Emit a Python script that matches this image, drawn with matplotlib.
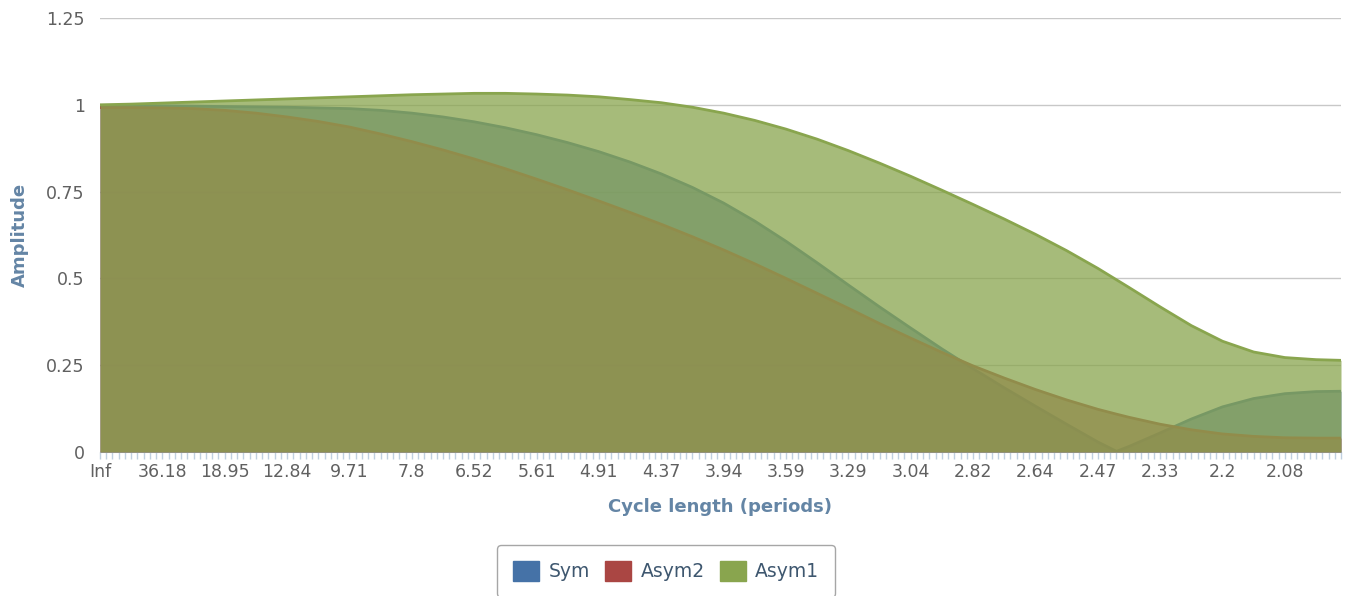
import matplotlib
matplotlib.use("Agg")
import matplotlib.pyplot as plt
from matplotlib.patches import Patch

# ---------------- data ----------------
n_categories = 200
tick_labels = ["Inf", "36.18", "18.95", "12.84", "9.71", "7.8", "6.52", "5.61",
               "4.91", "4.37", "3.94", "3.59", "3.29", "3.04", "2.82", "2.64",
               "2.47", "2.33", "2.2", "2.08"]

sample_idx = [0, 5, 10, 15, 20, 25, 30, 35, 40, 45, 50, 55, 60, 65, 70, 75, 80,
              85, 90, 95, 100, 105, 110, 115, 120, 125, 130, 135, 140, 145, 150,
              155, 160, 163, 165, 170, 175, 180, 185, 190, 195, 199]

sym = [0.998, 0.998, 0.997, 0.996, 0.995, 0.994, 0.993, 0.991, 0.989, 0.984,
       0.976, 0.965, 0.951, 0.934, 0.914, 0.891, 0.865, 0.835, 0.801, 0.762,
       0.717, 0.665, 0.607, 0.545, 0.481, 0.418, 0.357, 0.297, 0.240, 0.185,
       0.132, 0.080, 0.029, 0.002, 0.016, 0.055, 0.095, 0.130, 0.154, 0.168,
       0.174, 0.175]

asym2 = [0.992, 0.992, 0.991, 0.989, 0.984, 0.976, 0.965, 0.952, 0.936, 0.916,
         0.894, 0.870, 0.844, 0.816, 0.786, 0.755, 0.723, 0.690, 0.656, 0.620,
         0.582, 0.542, 0.500, 0.457, 0.414, 0.370, 0.328, 0.287, 0.248, 0.213,
         0.180, 0.150, 0.123, 0.109, 0.100, 0.080, 0.064, 0.052, 0.045, 0.041,
         0.040, 0.040]

asym1 = [1.000, 1.002, 1.005, 1.008, 1.011, 1.014, 1.017, 1.020, 1.023, 1.026,
         1.029, 1.031, 1.033, 1.033, 1.031, 1.028, 1.023, 1.015, 1.006, 0.993,
         0.976, 0.955, 0.930, 0.901, 0.868, 0.832, 0.794, 0.754, 0.713, 0.671,
         0.627, 0.580, 0.529, 0.496, 0.474, 0.418, 0.364, 0.319, 0.288, 0.272,
         0.266, 0.264]

series_names = ["Sym", "Asym2", "Asym1"]
series_values = [sym, asym2, asym1]
series_colors = ["#4572A7", "#AA4643", "#89A54E"]

# ---------------- figure ----------------
W, H = 1351, 596
fig = plt.figure(figsize=(W / 100, H / 100), dpi=100)
left, right, top, bottom = 100, 1341, 18, 452
ax = fig.add_axes([left / W, 1 - bottom / H, (right - left) / W, (bottom - top) / H])

text_grey = "#606060"
title_col = "#6485a5"

for z, (name, vals, col) in enumerate(zip(series_names, series_values, series_colors)):
    ax.fill_between(sample_idx, 0, vals, color=col, alpha=0.75, lw=0, zorder=2 + 2 * z)
    ax.plot(sample_idx, vals, color=col, lw=2.0, zorder=3 + 2 * z,
            solid_joinstyle="round")

ax.set_xlim(0, n_categories - 1)
ax.set_ylim(0, 1.25)

yt = [0, 0.25, 0.5, 0.75, 1, 1.25]
ax.set_yticks(yt)
ax.set_yticklabels(["0", "0.25", "0.5", "0.75", "1", "1.25"])
ax.yaxis.grid(True, color="#C8C8C8", lw=1.0, zorder=0)
ax.set_axisbelow(True)

all_ticks = list(range(n_categories))
labels = [""] * n_categories
for k, lab in enumerate(tick_labels):
    labels[k * 10] = lab
ax.set_xticks(all_ticks)
ax.set_xticklabels(labels)

ax.tick_params(axis="x", length=5, width=1, color="#C0D0E0", pad=3,
               labelsize=12.5, labelcolor=text_grey)
ax.tick_params(axis="y", length=0, pad=11, labelsize=12.5, labelcolor=text_grey)

for s in ["top", "right", "left"]:
    ax.spines[s].set_visible(False)
ax.spines["bottom"].set_color("#C0D0E0")
ax.spines["bottom"].set_zorder(1)

fig.text(20 / W, 1 - 235 / H, "Amplitude", rotation=90, ha="center", va="center",
         fontsize=13, fontweight="bold", color=title_col)
fig.text(720 / W, 1 - 507 / H, "Cycle length (periods)", ha="center", va="center",
         fontsize=13, fontweight="bold", color=title_col)

handles = [Patch(facecolor=c, edgecolor=c, label=n) for n, c in zip(series_names, series_colors)]
leg = fig.legend(handles=handles, loc="center", bbox_to_anchor=(666 / W, 1 - 571 / H),
                 ncol=3, frameon=True, fancybox=True, fontsize=13.5,
                 handlelength=1.4, handleheight=1.3, handletextpad=0.5,
                 columnspacing=0.8, borderpad=0.85, labelcolor="#3E576F")
leg.get_frame().set_edgecolor("#909090")
leg.get_frame().set_linewidth(1.0)

fig.savefig("out.png", dpi=100)
